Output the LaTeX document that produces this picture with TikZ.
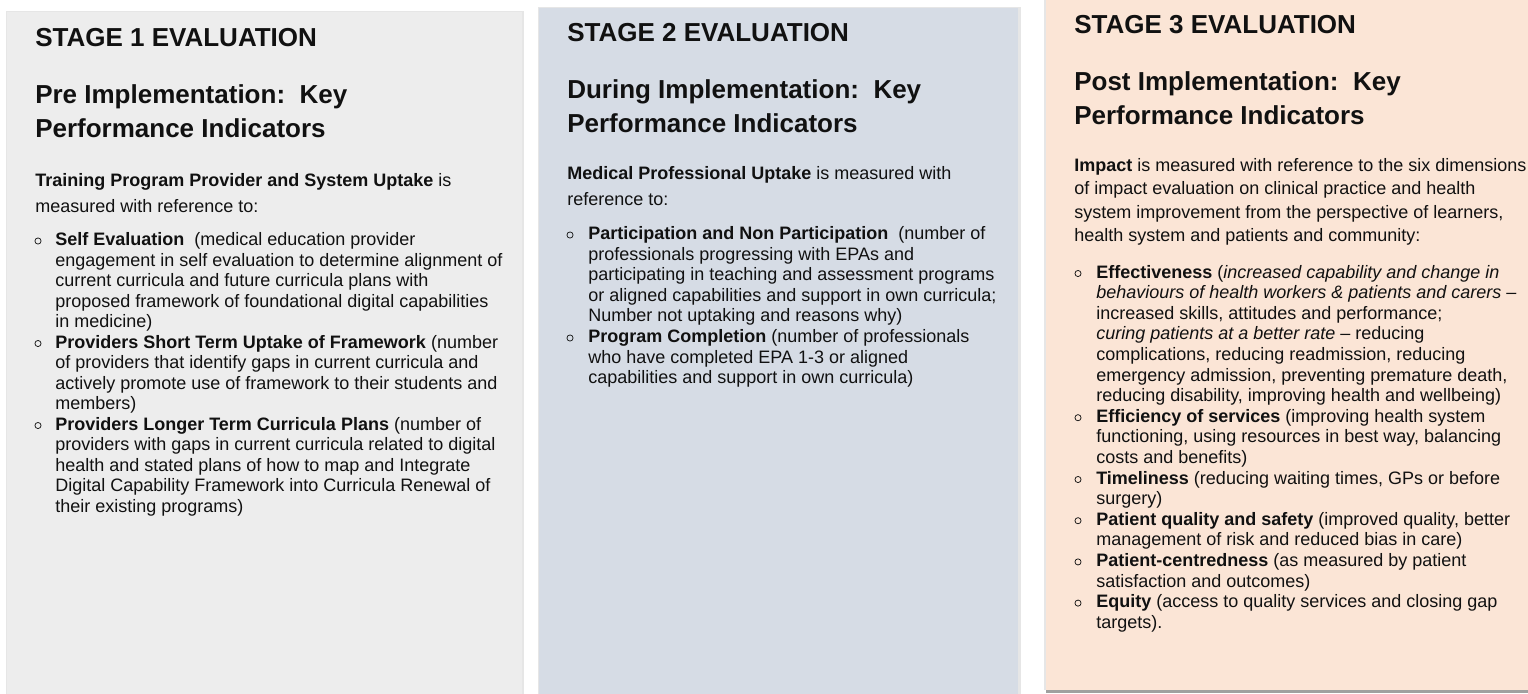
\documentclass[tikz,border=0pt]{standalone}
\usepackage{fontspec}
\setmainfont{Liberation Sans}
\definecolor{pA}{HTML}{EDEDED}
\definecolor{pB}{HTML}{D6DCE5}
\definecolor{pC}{HTML}{FBE5D6}
\definecolor{txt}{HTML}{111111}
\definecolor{shad}{HTML}{E6E6E6}
\definecolor{shadC}{HTML}{A0A0A0}
\tikzset{
  ttl/.style={anchor=base west, inner sep=0pt, text=txt, font=\fontsize{19.5}{22}\selectfont\bfseries},
  ln/.style={anchor=base west, inner sep=0pt, text=txt, font=\fontsize{13.5}{16}\selectfont},
  bul/.style={circle, draw=txt, line width=0.55pt, inner sep=0pt, minimum size=4.6pt}
}
\begin{document}
\begin{tikzpicture}[x=0.75pt,y=-0.75pt]
\useasboundingbox (0,0) rectangle (1528,693);
\clip (0,0) rectangle (1528,693);
\fill[white] (0,0) rectangle (1528,693);
% panel shadows and panels
\fill[shad] (6,11) rectangle (524,700);
\fill[pA] (7,12) rectangle (521.5,700);
\fill[shad] (537.5,7) rectangle (1020.5,700);
\fill[pB] (539,8) rectangle (1018,700);
\fill[shadC] (1046,0) rectangle (1530,693);
\fill[shad] (1044,0) rectangle (1046,690);
\fill[pC] (1046,-1) rectangle (1530,690);

% ---------- Stage 1 ----------
\node[ttl] (t1) at (35,46) {STAGE 1 EVALUATION};
\node[ttl] (h1a) at (35,103) {Pre Implementation:\ \ Key};
\node[ttl] (h1b) at (35,137) {Performance Indicators};
\node[ln] (i1a) at (35,186) {\textbf{Training Program Provider and System Uptake} is};
\node[ln] (i1b) at (35,212) {measured with reference to:};
\node[bul] (b1a) at (38,241) {};
\node[ln] (s1l0) at (55,245.5) {\textbf{Self Evaluation}\ \ (medical education provider};
\node[ln] (s1l1) at (55,266.0) {engagement in self evaluation to determine alignment of};
\node[ln] (s1l2) at (55,286.5) {current curricula and future curricula plans with};
\node[ln] (s1l3) at (55,307.0) {proposed framework of foundational digital capabilities};
\node[ln] (s1l4) at (55,327.5) {in medicine)};
\node[bul] (b1b) at (38,343.5) {};
\node[ln] (s1l5) at (55,348.0) {\textbf{Providers Short Term Uptake of Framework} (number};
\node[ln] (s1l6) at (55,368.5) {of providers that identify gaps in current curricula and};
\node[ln] (s1l7) at (55,389.0) {actively promote use of framework to their students and};
\node[ln] (s1l8) at (55,409.5) {members)};
\node[bul] (b1c) at (38,425.5) {};
\node[ln] (s1l9) at (55,430.0) {\textbf{Providers Longer Term Curricula Plans} (number of};
\node[ln] (s1l10) at (55,450.5) {providers with gaps in current curricula related to digital};
\node[ln] (s1l11) at (55,471.0) {health and stated plans of how to map and Integrate};
\node[ln] (s1l12) at (55,491.5) {Digital Capability Framework into Curricula Renewal of};
\node[ln] (s1l13) at (55,512.0) {their existing programs)};

% ---------- Stage 2 ----------
\node[ttl] (t2) at (567,41) {STAGE 2 EVALUATION};
\node[ttl] (h2a) at (567,98) {During Implementation:\ \ Key};
\node[ttl] (h2b) at (567,132) {Performance Indicators};
\node[ln] (i2a) at (567,179) {\textbf{Medical Professional Uptake} is measured with};
\node[ln] (i2b) at (567,205) {reference to:};
\node[bul] (b2a) at (570,235) {};
\node[ln] (s2l0) at (588,239.5) {\textbf{Participation and Non Participation}\ \ (number of};
\node[ln] (s2l1) at (588,260.1) {professionals progressing with EPAs and};
\node[ln] (s2l2) at (588,280.7) {participating in teaching and assessment programs};
\node[ln] (s2l3) at (588,301.3) {or aligned capabilities and support in own curricula;};
\node[ln] (s2l4) at (588,321.9) {Number not uptaking and reasons why)};
\node[bul] (b2b) at (570,338) {};
\node[ln] (s2l5) at (588,342.5) {\textbf{Program Completion} (number of professionals};
\node[ln] (s2l6) at (588,363.1) {who have completed EPA 1-3 or aligned};
\node[ln] (s2l7) at (588,383.7) {capabilities and support in own curricula)};

% ---------- Stage 3 ----------
\node[ttl] (t3) at (1074,33) {STAGE 3 EVALUATION};
\node[ttl] (h3a) at (1074,90) {Post Implementation:\ \ Key};
\node[ttl] (h3b) at (1074,124.5) {Performance Indicators};
\node[ln] (i3a) at (1074,171) {\textbf{Impact} is measured with reference to the six dimensions};
\node[ln] (i3b) at (1074,194.5) {of impact evaluation on clinical practice and health};
\node[ln] (i3c) at (1074,218) {system improvement from the perspective of learners,};
\node[ln] (i3d) at (1074,241.5) {health system and patients and community:};
\node[bul] (b3a) at (1078,273.5) {};
\node[ln] (s3l0) at (1096,278.0) {\textbf{Effectiveness} (\textit{increased capability and change in}};
\node[ln] (s3l1) at (1096,298.6) {\textit{behaviours of health workers \& patients and carers} –};
\node[ln] (s3l2) at (1096,319.2) {increased skills, attitudes and performance;};
\node[ln] (s3l3) at (1096,339.8) {\textit{curing patients at a better rate} – reducing};
\node[ln] (s3l4) at (1096,360.4) {complications, reducing readmission, reducing};
\node[ln] (s3l5) at (1096,381.0) {emergency admission, preventing premature death,};
\node[ln] (s3l6) at (1096,401.6) {reducing disability, improving health and wellbeing)};
\node[bul] (b3b) at (1078,417.7) {};
\node[ln] (s3l7) at (1096,422.2) {\textbf{Efficiency of services} (improving health system};
\node[ln] (s3l8) at (1096,442.8) {functioning, using resources in best way, balancing};
\node[ln] (s3l9) at (1096,463.4) {costs and benefits)};
\node[bul] (b3c) at (1078,479.5) {};
\node[ln] (s3l10) at (1096,484.0) {\textbf{Timeliness} (reducing waiting times, GPs or before};
\node[ln] (s3l11) at (1096,504.6) {surgery)};
\node[bul] (b3d) at (1078,520.7) {};
\node[ln] (s3l12) at (1096,525.2) {\textbf{Patient quality and safety} (improved quality, better};
\node[ln] (s3l13) at (1096,545.8) {management of risk and reduced bias in care)};
\node[bul] (b3e) at (1078,561.9) {};
\node[ln] (s3l14) at (1096,566.4) {\textbf{Patient-centredness} (as measured by patient};
\node[ln] (s3l15) at (1096,587.0) {satisfaction and outcomes)};
\node[bul] (b3f) at (1078,603.1) {};
\node[ln] (s3l16) at (1096,607.6) {\textbf{Equity} (access to quality services and closing gap};
\node[ln] (s3l17) at (1096,628.2) {targets).};
\end{tikzpicture}
\end{document}
